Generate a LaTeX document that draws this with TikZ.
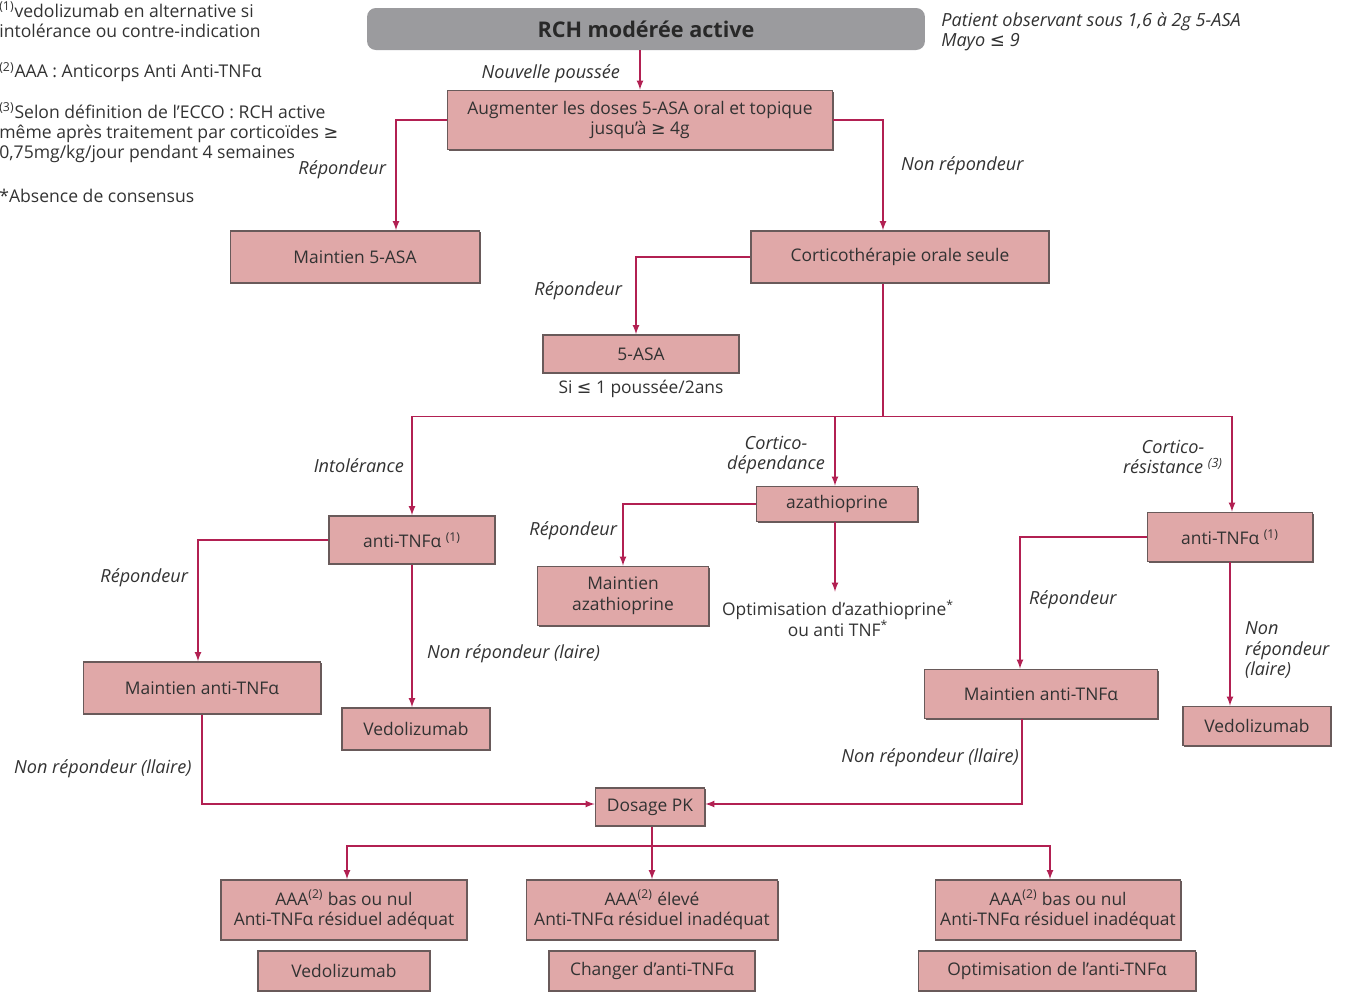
\documentclass[tikz,border=0pt]{standalone}
\usepackage{fontspec}
\setmainfont{Open Sans}
\newfontfamily\symfont{DejaVu Sans}
\newcommand{\symge}{{\symfont ≥}}
\newcommand{\symle}{{\symfont ≤}}
\usepackage{tikz}
\usetikzlibrary{calc,positioning,arrows,shadows}

\definecolor{boxfill}{RGB}{224,168,168}
\definecolor{boxline}{RGB}{105,90,90}
\definecolor{linkcol}{RGB}{178,32,82}
\definecolor{txtcol}{RGB}{50,50,50}
\definecolor{headfill}{RGB}{155,155,158}

\tikzset{
	pbox/.style={draw=boxline, fill=boxfill, line width=0.9pt, align=center, inner sep=1pt,
		text=txtcol, font=\fontsize{9.9}{11.8}\selectfont,
		drop shadow={shadow xshift=0.7pt, shadow yshift=-0.7pt, fill=boxline, opacity=1}},
	link/.style={draw=linkcol, line width=0.8pt, -latex},
	plain/.style={draw=linkcol, line width=0.8pt},
	lbl/.style={text=txtcol, font=\fontsize{10.3}{11.8}\selectfont\itshape, inner sep=1pt, align=center},
	note/.style={text=txtcol, font=\fontsize{10}{11.6}\selectfont, inner sep=0pt, align=left, anchor=west}
}

\begin{document}
\begin{tikzpicture}[x=0.02cm, y=-0.02cm]
		\useasboundingbox (0,0) rectangle (1347,992);
		
		% notes
		\node[note] (n1) at (-1,20) {\textsuperscript{(1)}vedolizumab en alternative si\\intolérance ou contre-indication};
		\node[note] (n2) at (-1,72) {\textsuperscript{(2)}AAA : Anticorps Anti Anti-TNFα};
		\node[note] (n3) at (-1,133) {\textsuperscript{(3)}Selon définition de l'ECCO : RCH active\\même après traitement par corticoïdes \symge\\0,75mg/kg/jour pendant 4 semaines};
		\node[note] (n4) at (-1,196) {*Absence de consensus};
		\node[note, font=\fontsize{10.3}{11.6}\selectfont\itshape] (pat) at (941,32) {Patient observant sous 1,6 à 2g 5-ASA\\Mayo \symle\ 9};
		
		% boxes
		\node[draw=none, fill=headfill, rounded corners=5pt, minimum width=11.16cm, minimum height=0.84cm, text=txtcol!80!black, font=\fontsize{12.3}{14}\selectfont\bfseries] (rch) at (646,29) {RCH modérée active};
		\node[pbox, minimum width=7.7cm, minimum height=1.18cm] (aug) at (640,120) {Augmenter les doses 5-ASA oral et topique\\jusqu'à \symge\ 4g};
		\node[pbox, minimum width=4.98cm, minimum height=1.04cm] (m5asa) at (355,257) {Maintien 5-ASA};
		\node[pbox, minimum width=5.96cm, minimum height=1.04cm] (cortico) at (900,257) {Corticothérapie orale seule};
		\node[pbox, minimum width=3.92cm, minimum height=0.76cm] (asa) at (641,354) {5-ASA};
		\node[lbl, font=\fontsize{9.9}{11.8}\selectfont] (si) at (641,389) {Si \symle\ 1 poussée/2ans};
		
		\node[pbox, minimum width=3.32cm, minimum height=0.96cm] (tnfL) at (412,540) {anti-TNFα \textsuperscript{(1)}};
		\node[pbox, minimum width=3.22cm, minimum height=0.70cm] (aza) at (837,504) {azathioprine};
		\node[pbox, minimum width=3.3cm, minimum height=0.98cm] (tnfR) at (1230,537) {anti-TNFα \textsuperscript{(1)}};
		
		\node[pbox, minimum width=4.74cm, minimum height=1.04cm] (mtnfL) at (202,688) {Maintien anti-TNFα};
		\node[pbox, minimum width=2.96cm, minimum height=0.84cm] (vedoL) at (416,729) {Vedolizumab};
		\node[pbox, minimum width=3.42cm, minimum height=1.18cm] (maza) at (623,596) {Maintien\\azathioprine};
		\node[lbl, font=\fontsize{9.9}{11.8}\selectfont] (optim) at (838,618) {Optimisation d'azathioprine\textsuperscript{*}\\ou anti TNF\textsuperscript{*}};
		\node[pbox, minimum width=4.66cm, minimum height=0.98cm] (mtnfR) at (1041,694) {Maintien anti-TNFα};
		\node[pbox, minimum width=2.96cm, minimum height=0.78cm] (vedoR) at (1257,726) {Vedolizumab};
		
		\node[pbox, minimum width=2.18cm, minimum height=0.76cm] (pk) at (650,807) {Dosage PK};
		
		\node[pbox, minimum width=4.92cm, minimum height=1.2cm] (b1) at (344,910) {AAA\textsuperscript{(2)} bas ou nul\\Anti-TNFα résiduel adéquat};
		\node[pbox, minimum width=5.02cm, minimum height=1.2cm] (b2) at (652,910) {AAA\textsuperscript{(2)} élevé\\Anti-TNFα résiduel inadéquat};
		\node[pbox, minimum width=4.9cm, minimum height=1.2cm] (b3) at (1058,910) {AAA\textsuperscript{(2)} bas ou nul\\Anti-TNFα résiduel inadéquat};
		\node[pbox, minimum width=3.44cm, minimum height=0.8cm] (c1) at (344,971) {Vedolizumab};
		\node[pbox, minimum width=4.12cm, minimum height=0.8cm] (c2) at (652,971) {Changer d'anti-TNFα};
		\node[pbox, minimum width=5.54cm, minimum height=0.8cm] (c3) at (1057,971) {Optimisation de l'anti-TNFα};
		
		% connectors
		\draw[link] (aug.north |- rch.south) -- (aug.north);
		\draw[link] (aug.west) -| ($(m5asa.north)+(41,0)$);
		\draw[link] (aug.east) -| ($(cortico.north)+(-17,0)$);
		\draw[link] (cortico.west) -| ($(asa.north)+(-5,0)$);
		\coordinate (split) at ($(cortico.south)+(-17,133)$);
		\draw[plain] (cortico.south -| split) -- (split);
		\draw[link] (split) -| (tnfL.north);
		\draw[link] (split) -| ($(aza.north)+(-2,0)$);
		\draw[link] (split) -| ($(tnfR.north)+(2,0)$);
		
		\draw[link] (tnfL.west) -| ($(mtnfL.north)+(-4,0)$);
		\draw[link] (tnfL.south) -- (tnfL.south |- vedoL.north);
		\draw[link] (aza.west) -| (maza.north);
		\draw[link] ($(aza.south)+(-2,0)$) -- ($(optim.north)+(-3,-6)$);
		\draw[link] (tnfR.west) -| ($(mtnfR.north)+(-21,0)$);
		\draw[link] (tnfR.south) -- (tnfR.south |- vedoR.north);
		
		\draw[link] (mtnfL.south) |- ($(pk.west)+(0,-3)$);
		\draw[link] ($(mtnfR.south)+(-19,0)$) |- ($(pk.east)+(0,-3)$);
		
		\coordinate (split2) at ($(pk.south)+(2,19)$);
		\draw[link] (pk.south -| split2) -- (b2.north);
		\draw[link] (split2) -| ($(b1.north)+(3,0)$);
		\draw[link] (split2) -| ($(b3.north)+(-8,0)$);
		
		% labels
		\node[lbl, anchor=east] (lnp) at (622,74) {Nouvelle poussée};
		\node[lbl, anchor=east] (lr1) at (388,170) {Répondeur};
		\node[lbl, anchor=west] (lnr1) at (899,166) {Non répondeur};
		\node[lbl, anchor=east] (lr2) at (624,291) {Répondeur};
		\node[lbl, anchor=east] (lint) at (406,466) {Intolérance};
		\node[lbl] (ldep) at (776,455) {Cortico-\\dépendance};
		\node[lbl] (lres) at (1173,457) {Cortico-\\résistance \textsuperscript{(3)}};
		\node[lbl, anchor=east] (lr3) at (190,578) {Répondeur};
		\node[lbl, anchor=west] (lnr2) at (425,654) {Non répondeur (laire)};
		\node[lbl, anchor=east] (lr4) at (619,531) {Répondeur};
		\node[lbl, anchor=west] (lr5) at (1027,600) {Répondeur};
		\node[lbl, anchor=west, align=left] (lnr3) at (1243,650) {Non\\répondeur\\(laire)};
		\node[lbl, anchor=west] (lnr4) at (12,769) {Non répondeur (llaire)};
		\node[lbl, anchor=east] (lnr5) at (1021,758) {Non répondeur (llaire)};
	\end{tikzpicture}
\end{document}
